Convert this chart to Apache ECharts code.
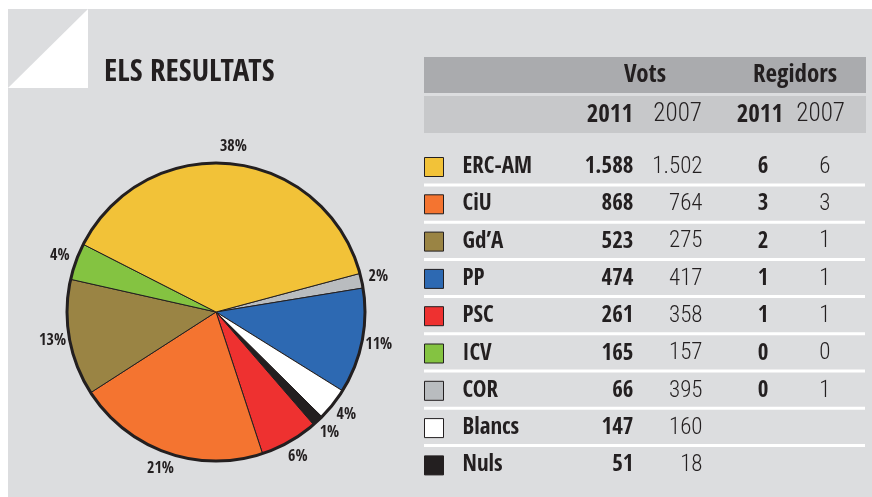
<!DOCTYPE html>
<html>
<head>
<meta charset="utf-8">
<title>Els resultats</title>
<script src="https://cdn.jsdelivr.net/npm/echarts@6/dist/echarts.min.js"></script>
<style>
  html, body { margin: 0; padding: 0; background: #fff; }
  #main { width: 872px; height: 497px; }
</style>
</head>
<body>
<div id="main"></div>
<script>
'use strict';

/* ===== Dades ====== */
var parties = ['ERC-AM', 'CiU', 'Gd’A', 'PP', 'PSC', 'ICV', 'COR', 'Blancs', 'Nuls'];
var vots2011 = [1588, 868, 523, 474, 261, 165, 66, 147, 51];
var vots2007 = [1502, 764, 275, 417, 358, 157, 395, 160, 18];
var regidors2011 = [6, 3, 2, 1, 1, 0, 0, null, null];
var regidors2007 = [6, 3, 1, 1, 1, 0, 1, null, null];
var colors = ['#f2c238', '#f47430', '#9a8444', '#2d69b2', '#ee3130', '#84c341', '#b9bcbf', '#ffffff', '#231f20'];
// ordre de les porcions (sentit horari, començant per COR)
var pieOrder = ['COR', 'PP', 'Blancs', 'Nuls', 'PSC', 'CiU', 'Gd’A', 'ICV', 'ERC-AM'];

var FONT = "'Open Sans Condensed', 'Roboto Condensed', sans-serif";
var FONT_LIGHT = "'Roboto Condensed', 'Open Sans Condensed', sans-serif";
var INK = '#231f20';

function fmt(n) {
  if (n == null) return ' ';
  return String(n).replace(/\B(?=(\d{3})+(?!\d))/g, '.');
}

var pieData = pieOrder.map(function (name) {
  var i = parties.indexOf(name);
  return { name: name, value: vots2011[i], itemStyle: { color: colors[i] } };
});
var labelData = pieOrder.map(function (name) {
  return { name: name, value: vots2011[parties.indexOf(name)] };
});

function styleRich(obj, size, lh) {
  for (var k in obj) {
    obj[k].color = INK;
    obj[k].fontSize = size;
    obj[k].lineHeight = lh;
    if (obj[k].light) {
      obj[k].fontFamily = FONT_LIGHT;
      obj[k].fontWeight = 300;
      delete obj[k].light;
    } else {
      obj[k].fontFamily = FONT;
      obj[k].fontWeight = 'bold';
    }
  }
  return obj;
}

// columnes de la taula
var rowRich = styleRich({
  s: { width: 14 },
  n: { width: 100 },
  a: { width: 71, align: 'right' },
  b: { width: 69, align: 'right', light: true },
  c: { width: 66, align: 'right' },
  d: { width: 62, align: 'right', light: true }
}, 23, 24);

var headRich1 = styleRich({
  s: { width: 142 },
  v: { width: 110, align: 'center' },
  s2: { width: 40, align: 'center' },
  r: { width: 110, align: 'center' }
}, 25, 28);

var headRich2 = styleRich({
  s: { width: 114 },
  a: { width: 71, align: 'right' },
  b: { width: 69, align: 'right', light: true },
  c: { width: 81, align: 'right' },
  d: { width: 62, align: 'right', light: true }
}, 25, 28);

/* ===== Fons i decoració ====== */
var graphics = [
  { type: 'rect', z: -10, shape: { x: 8, y: 9, width: 864, height: 488 }, style: { fill: '#dcdddf' } },
  { type: 'polygon', z: -9, shape: { points: [[88, 9], [8, 88], [88, 88]] }, style: { fill: '#ffffff' } },
  { type: 'rect', z: -9, shape: { x: 424, y: 57, width: 442, height: 36 }, style: { fill: '#aaabae' } },
  { type: 'rect', z: -9, shape: { x: 424, y: 96, width: 442, height: 37 }, style: { fill: '#c7c8ca' } }
];
for (var r = 0; r < parties.length - 1; r++) {
  graphics.push({
    type: 'rect', z: -9,
    shape: { x: 424, y: 183.5 + r * 37.2, width: 441, height: 3 },
    style: { fill: '#ffffff' }
  });
}

var myChart = echarts.init(document.getElementById('main'));

var option = {
  backgroundColor: '#ffffff',
  animation: false,
  graphic: graphics,
  title: [
    {
      text: 'ELS RESULTATS',
      left: 104, top: 57, padding: 0,
      textStyle: { fontFamily: FONT, fontWeight: 'bold', fontSize: 31, lineHeight: 31, color: INK }
    },
    {
      text: '{s| }{v|Vots}{s2| }{r|Regidors}',
      left: 448, top: 61, padding: 0,
      textStyle: { rich: headRich1 }
    },
    {
      text: '{s| }{a|2011}{b|2007}{c|2011}{d|2007}',
      left: 448, top: 101, padding: 0,
      textStyle: { rich: headRich2 }
    }
  ],
  legend: {
    orient: 'vertical',
    left: 424, top: 155.5, padding: 0,
    itemWidth: 19, itemHeight: 19, itemGap: 14.3,
    icon: 'rect',
    selectedMode: false,
    data: parties,
    itemStyle: { borderColor: INK, borderWidth: 1 },
    textStyle: { rich: rowRich },
    formatter: function (name) {
      var i = parties.indexOf(name);
      return '{s| }{n|' + name + '}{a|' + fmt(vots2011[i]) + '}{b|' + fmt(vots2007[i]) +
        '}{c|' + fmt(regidors2011[i]) + '}{d|' + fmt(regidors2007[i]) + '}';
    }
  },
  series: [
    {
      type: 'pie',
      center: [216, 312],
      radius: 149,
      startAngle: 15,
      clockwise: true,
      silent: true,
      itemStyle: { borderColor: INK, borderWidth: 1 },
      label: { show: false },
      labelLine: { show: false },
      data: pieData
    },
    {
      // anella invisible per situar els percentatges
      type: 'pie',
      center: [216, 312],
      radius: [149, 177],
      startAngle: 15,
      clockwise: true,
      silent: true,
      itemStyle: { color: 'rgba(0,0,0,0)', borderWidth: 0 },
      label: {
        position: 'inside',
        fontFamily: FONT, fontWeight: 'bold', fontSize: 16, color: INK,
        formatter: function (p) { return Math.round(p.percent) + '%'; }
      },
      labelLine: { show: false },
      data: labelData
    },
    {
      type: 'pie',
      center: [216, 312],
      radius: 149,
      silent: true,
      label: { show: false },
      labelLine: { show: false },
      itemStyle: { color: 'rgba(0,0,0,0)', borderColor: INK, borderWidth: 3 },
      data: [{ name: 'vora', value: 1 }]
    }
  ]
};

myChart.setOption(option);
</script>
</body>
</html>
